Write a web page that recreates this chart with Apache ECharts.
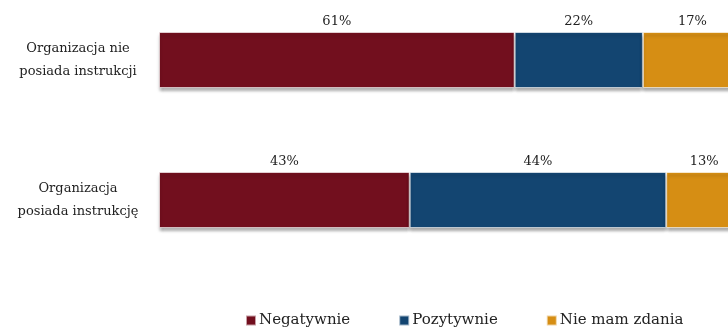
<!DOCTYPE html>
<html>
<head>
<meta charset="utf-8">
<script src="https://cdn.jsdelivr.net/npm/echarts@6/dist/echarts.min.js"></script>
<style>
  html, body { margin: 0; padding: 0; background: #fff; }
  #chart { width: 728px; height: 333px; }
</style>
</head>
<body>
<div id="chart"></div>
<script>
var categories = ['Organizacja nie\nposiada instrukcji', 'Organizacja\nposiada instrukcję'];
var seriesNames = ['Negatywnie', 'Pozytywnie', 'Nie mam zdania'];
var negatywnie = [61, 43];
var pozytywnie = [22, 44];
var brakZdania = [17, 13];
var colors = ['#720f1e', '#134571', '#d68e14'];

var chart = echarts.init(document.getElementById('chart'));

function makeSeries(name, data, color) {
  return {
    name: name,
    type: 'bar',
    stack: 'all',
    data: data,
    barWidth: 56,
    itemStyle: {
      color: color,
      borderColor: 'rgba(255,255,255,0.6)',
      borderWidth: 1,
      shadowColor: 'rgba(0,0,0,0.35)',
      shadowBlur: 3,
      shadowOffsetY: 3
    },
    label: {
      show: true,
      position: 'top',
      distance: 4,
      formatter: '{c}%',
      fontFamily: 'DejaVu Serif',
      fontSize: 13,
      color: '#222'
    }
  };
}

chart.setOption({
  animation: false,
  grid: { left: 159, right: -14, top: -10, bottom: 63, outerBoundsMode: 'none' },
  xAxis: {
    type: 'value',
    min: 0,
    max: 100,
    show: false
  },
  yAxis: {
    type: 'category',
    inverse: true,
    data: categories,
    axisLine: { show: false },
    axisTick: { show: false },
    axisLabel: {
      margin: 81,
      align: 'center',
      fontFamily: 'DejaVu Serif',
      fontSize: 13,
      lineHeight: 23,
      color: '#222'
    }
  },
  legend: {
    bottom: 0,
    left: 240,
    itemWidth: 10,
    itemHeight: 10,
    itemGap: 48,
    icon: 'rect',
    textStyle: {
      fontFamily: 'DejaVu Serif',
      fontSize: 15,
      color: '#222',
      padding: [0, 0, 0, -2]
    },
    data: seriesNames
  },
  series: [
    makeSeries(seriesNames[0], negatywnie, colors[0]),
    makeSeries(seriesNames[1], pozytywnie, colors[1]),
    makeSeries(seriesNames[2], brakZdania, colors[2])
  ]
});
</script>
</body>
</html>
